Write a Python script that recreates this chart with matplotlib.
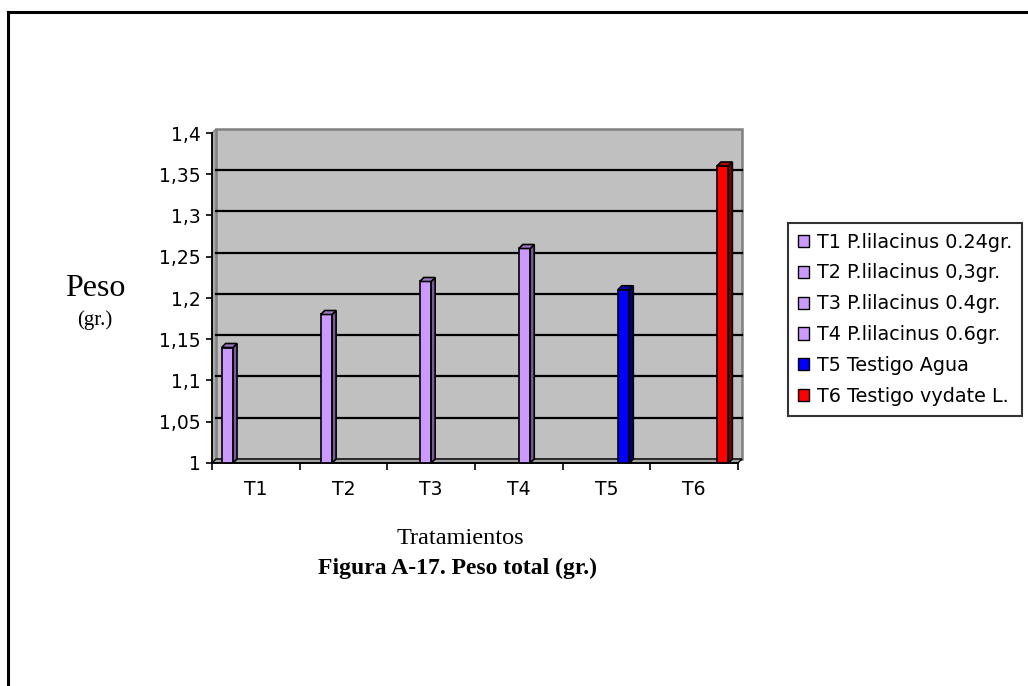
import numpy as np
import matplotlib
matplotlib.use("Agg")
import matplotlib.pyplot as plt
from matplotlib.patches import Polygon, Patch
from matplotlib.lines import Line2D

# Peso total por tratamiento (gr.)
tratamientos = ["T1", "T2", "T3", "T4", "T5", "T6"]
series = ["T1 P.lilacinus 0.24gr.", "T2 P.lilacinus 0,3gr.", "T3 P.lilacinus 0.4gr.",
          "T4 P.lilacinus 0.6gr.", "T5 Testigo Agua", "T6 Testigo vydate L."]
peso = [1.14, 1.18, 1.22, 1.26, 1.21, 1.36]
colores = ["#CC99FF", "#CC99FF", "#CC99FF", "#CC99FF", "#0000FF", "#FF0000"]
lados = ["#7A5C99", "#7A5C99", "#7A5C99", "#7A5C99", "#000080", "#800000"]
techos = ["#9F77C6", "#9F77C6", "#9F77C6", "#9F77C6", "#0000B0", "#B00000"]

W, H = 1028, 686
fig = plt.figure(figsize=(W / 100, H / 100), dpi=100)
ax = fig.add_axes([212 / W, 223 / H, 526 / W, 330 / H])
ax.set_facecolor("none")
ymin, ymax = 1.0, 1.4
ax.set_xlim(-0.5, 5.5)
ax.set_ylim(ymin, ymax)

# depth of the pseudo 3D effect, 4 px
dx = 4 * 6 / 526
dy = 4 * (ymax - ymin) / 330

# back wall, side wall and floor
ax.add_patch(Polygon([(-0.5 + dx, ymin + dy), (5.5 + dx, ymin + dy), (5.5 + dx, ymax + dy),
                      (-0.5 + dx, ymax + dy)], closed=True, fc="#C0C0C0", ec="#808080",
                     lw=1.8, zorder=0, clip_on=False))
ax.add_patch(Polygon([(-0.5, ymin), (-0.5 + dx, ymin + dy), (-0.5 + dx, ymax + dy), (-0.5, ymax)],
                     closed=True, fc="#A8A8A8", ec="#808080", lw=1, zorder=0, clip_on=False))
ax.add_patch(Polygon([(-0.5, ymin), (5.5, ymin), (5.5 + dx, ymin + dy), (-0.5 + dx, ymin + dy)],
                     closed=True, fc="#A0A0A0", ec="black", lw=1, zorder=1, clip_on=False))

yticks = np.round(np.arange(1.0, 1.4001, 0.05), 2)
for yv in yticks[1:-1]:
    ax.add_line(Line2D([-0.5 + dx, 5.5 + dx], [yv + dy, yv + dy], color="black", lw=1.6,
                       zorder=1, clip_on=False))

# one bar per treatment, each in its own slot of the group
w = 0.13
pad = (1 - len(series) * w) / 2
for i, v in enumerate(peso):
    x = i - 0.5 + pad + w / 2 + w * i
    ax.bar(x, v, width=w, color=colores[i], edgecolor="black", lw=1.2, zorder=3)
    ax.add_patch(Polygon([(x + w / 2, ymin), (x + w / 2 + dx, ymin + dy), (x + w / 2 + dx, v + dy),
                          (x + w / 2, v)], closed=True, fc=lados[i], ec="black", lw=1.2, zorder=3))
    ax.add_patch(Polygon([(x - w / 2, v), (x + w / 2, v), (x + w / 2 + dx, v + dy),
                          (x - w / 2 + dx, v + dy)], closed=True, fc=techos[i], ec="black",
                         lw=1.2, zorder=3, clip_on=False))

for s in ["top", "right"]:
    ax.spines[s].set_visible(False)
for s in ["left", "bottom"]:
    ax.spines[s].set_color("black")
    ax.spines[s].set_linewidth(1.3)
    ax.spines[s].set_zorder(4)

ax.set_yticks(yticks)
ax.set_yticklabels([f"{v:g}".replace(".", ",") for v in yticks])
ax.tick_params(axis="y", direction="out", length=4, width=1.2, pad=4, labelsize=13.5)

ax.set_xticks(range(6))
ax.set_xticklabels(tratamientos)
ax.set_xticks(np.arange(-0.5, 6, 1), minor=True)
ax.tick_params(axis="x", which="major", length=0, pad=12, labelsize=13.5)
ax.tick_params(axis="x", which="minor", direction="out", length=5, width=1.2)

handles = [Patch(facecolor=c, edgecolor="black", lw=1) for c in colores]
leg = fig.legend(handles, series, loc="upper left", bbox_to_anchor=(788 / W, 1 - 223 / H),
                 fontsize=13.8, frameon=True, fancybox=False, handlelength=0.6, handleheight=0.6,
                 handletextpad=0.4, labelspacing=0.62, borderpad=0.5, borderaxespad=0)
leg.get_frame().set_edgecolor("black")
leg.get_frame().set_linewidth(1.5)

serif = "Liberation Serif"
fig.text(95 / W, 1 - 288 / H, "Peso", family=serif, fontsize=23, ha="center", va="center")
fig.text(95 / W, 1 - 320 / H, "(gr.)", family=serif, fontsize=15, ha="center", va="center")
fig.text(460 / W, 1 - 539 / H, "Tratamientos", family=serif, fontsize=17.5, ha="center", va="center")
fig.text(457 / W, 1 - 568 / H, "Figura A-17. Peso total (gr.)", family=serif, fontsize=17,
         fontweight="bold", ha="center", va="center")

# page frame: top and left edges
fig.add_artist(Line2D([8 / W, 8 / W], [0, 1 - 12 / H], color="black", lw=2.2))
fig.add_artist(Line2D([8 / W, 1], [1 - 12 / H, 1 - 12 / H], color="black", lw=2.2))

fig.savefig("out.png", dpi=100)
